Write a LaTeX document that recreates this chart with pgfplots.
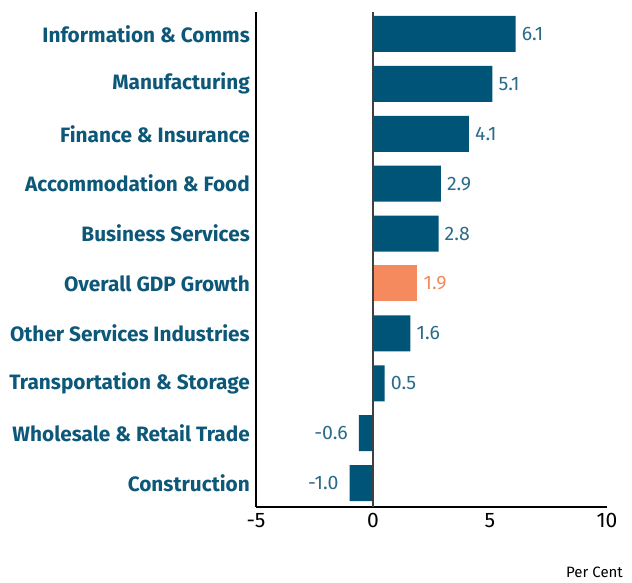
\documentclass[border=0pt]{standalone}
\usepackage{fontspec}
\setmainfont{Fira Sans}
\usepackage{pgfplots}
\pgfplotsset{compat=1.18}
\definecolor{barc}{HTML}{005477}
\definecolor{labc}{HTML}{0D5879}
\definecolor{valc}{HTML}{2A6B8A}
\definecolor{gdpc}{HTML}{F58A5F}
\begin{document}
\begin{tikzpicture}[x=1pt,y=1pt]
\useasboundingbox (0,0) rectangle (632,582);
\begin{axis}[at={(256pt,75pt)}, anchor=south west, scale only axis,
  width=351pt, height=495pt,
  xmin=-5, xmax=10, ymin=-0.48, ymax=9.44,
  axis lines*=left,
  axis line style={line width=1.4pt, black},
  xtick={-5,0,5,10}, ytick={0,...,9},
  yticklabels={Construction, Wholesale \& Retail Trade, Transportation \& Storage, Other Services Industries, Overall GDP Growth, Business Services, Accommodation \& Food, Finance \& Insurance, Manufacturing, Information \& Comms},
  major tick length=0pt,
  yticklabel style={font=\fontsize{20.8}{21}\selectfont\bfseries, text=labc, inner xsep=0pt, xshift=-6pt},
  xticklabel style={font=\fontsize{21}{21}\selectfont, inner ysep=0pt, yshift=-6pt},
  /pgf/number format/assume math mode=true,
  extra x ticks={0}, extra x tick labels={}, extra x tick style={grid=major, major grid style={line width=2pt, black!75}},
  xbar, bar width=36pt, bar shift=0pt,
  point meta=x,
  nodes near coords,
  nodes near coords style={font=\fontsize{19.5}{20}\selectfont, /pgf/number format/fixed, /pgf/number format/fixed zerofill, /pgf/number format/precision=1, /pgf/number format/assume math mode=true},
  axis on top,
  clip=false,
]
\addplot[fill=barc, draw=none, nodes near coords style={text=valc, anchor=west, inner xsep=0pt, xshift=6pt}] coordinates {
(6.1,9) (5.1,8) (4.1,7) (2.9,6) (2.8,5) (1.6,3) (0.5,2)};
\addplot[fill=barc, draw=none, nodes near coords style={text=valc, anchor=east, inner xsep=0pt, xshift=-11pt}] coordinates {
(-0.6,1) (-1.0,0)};
\addplot[fill=gdpc, draw=none, nodes near coords style={text=gdpc, anchor=west, inner xsep=0pt, xshift=6pt}] coordinates {
(1.9,4)};
\end{axis}
\node[anchor=base west, inner sep=0pt, font=\fontsize{15}{15}\selectfont] at (566,5) {Per Cent};
\end{tikzpicture}
\end{document}
